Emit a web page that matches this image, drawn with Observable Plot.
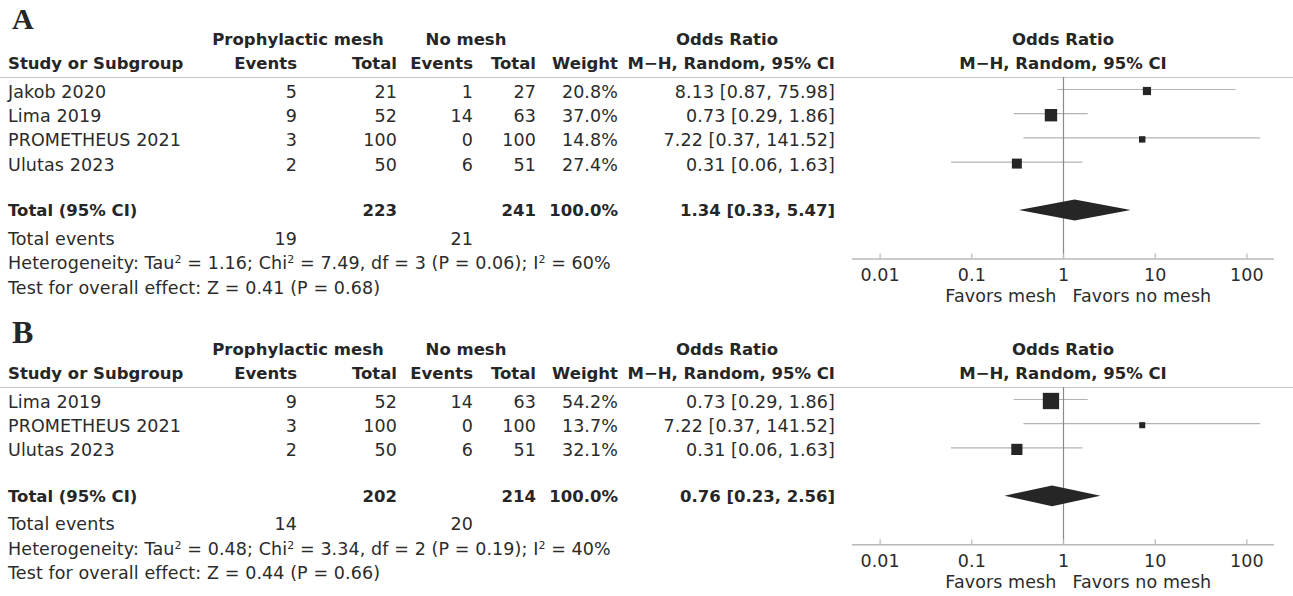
<!DOCTYPE html>
<html>
<head>
<meta charset="utf-8">
<script src="https://cdn.jsdelivr.net/npm/d3@7"></script>
<script src="https://cdn.jsdelivr.net/npm/@observablehq/plot@0.6"></script>
<style>
  body { margin: 0; background: #fff; }
  #fig { position: relative; width: 1293px; height: 596px; overflow: hidden;
         font-family: "DejaVu Sans", sans-serif; font-size: 17.5px; letter-spacing: 0.1px; color: #2b2b2b; }
  .panel { position: absolute; left: 0; width: 1293px; height: 300px; }
  .t { position: absolute; white-space: nowrap; line-height: 20px; height: 20px; }
  .b { font-weight: bold; font-size: 16.5px; letter-spacing: 0; color: #262626; }
  .letter { position: absolute; left: 12px; font-family: "Liberation Serif", serif; font-weight: bold; color: #262626; }
  .rule { position: absolute; left: 0; width: 1293px; height: 0; border-top: 1.5px solid #c6c6c6; }
  sup { font-size: 11px; line-height: 0; vertical-align: 6px; }
  .forest { position: absolute; left: 840px; }
</style>
</head>
<body>
<div id="fig"></div>
<script>
// ---- Analysis A: all four trials ----
const studiesA      = ["Jakob 2020", "Lima 2019", "PROMETHEUS 2021", "Ulutas 2023"];
const meshEventsA   = [5, 9, 3, 2];
const meshTotalA    = [21, 52, 100, 50];
const noMeshEventsA = [1, 14, 0, 6];
const noMeshTotalA  = [27, 63, 100, 51];
const weightA       = [20.8, 37.0, 14.8, 27.4];
const orA           = [8.13, 0.73, 7.22, 0.31];
const lowerA        = [0.87, 0.29, 0.37, 0.06];
const upperA        = [75.98, 1.86, 141.52, 1.63];
const pooledA       = [1.34, 0.33, 5.47];          // OR, lower, upper
const totalsA       = [223, 241, 100.0];           // mesh total, no-mesh total, weight
const eventsA       = [19, 21];                    // total events mesh / no mesh
const heteroA       = ["1.16", "7.49", "3", "0.06", "60"]; // Tau², Chi², df, P, I²
const overallA      = ["0.41", "0.68"];            // Z, P

// ---- Analysis B: excluding Jakob 2020 ----
const studiesB      = ["Lima 2019", "PROMETHEUS 2021", "Ulutas 2023"];
const meshEventsB   = [9, 3, 2];
const meshTotalB    = [52, 100, 50];
const noMeshEventsB = [14, 0, 6];
const noMeshTotalB  = [63, 100, 51];
const weightB       = [54.2, 13.7, 32.1];
const orB           = [0.73, 7.22, 0.31];
const lowerB        = [0.29, 0.37, 0.06];
const upperB        = [1.86, 141.52, 1.63];
const pooledB       = [0.76, 0.23, 2.56];
const totalsB       = [202, 214, 100.0];
const eventsB       = [14, 20];
const heteroB       = ["0.48", "3.34", "2", "0.19", "40"];
const overallB      = ["0.44", "0.66"];

// Odds-ratio axis
const oddsTicks = [0.01, 0.1, 1, 10, 100];
const oddsDomain = [0.005, 200];
const favorLabels = ["Favors mesh", "Favors no mesh"];

// ---- layout ----
const W = 1293;
const ROW = 24.2;        // row pitch
const RULE_Y = 77;       // header rule inside a panel
const FIRST_Y = 89;      // centre of the first study row
const FOREST_LEFT = 840;
const COL = { study: 8, ev1: 297, tot1: 397, ev2: 473, tot2: 536, weight: 618, ci: 835 };

const panels = [
  { letter: "A", top: 0, letterSize: 30, letterBase: 29.5,
    studies: studiesA, meshEvents: meshEventsA, meshTotal: meshTotalA,
    noMeshEvents: noMeshEventsA, noMeshTotal: noMeshTotalA, weight: weightA,
    or: orA, lower: lowerA, upper: upperA, pooled: pooledA, totals: totalsA,
    events: eventsA, hetero: heteroA, overall: overallA },
  { letter: "B", top: 310, letterSize: 32, letterBase: 33,
    studies: studiesB, meshEvents: meshEventsB, meshTotal: meshTotalB,
    noMeshEvents: noMeshEventsB, noMeshTotal: noMeshTotalB, weight: weightB,
    or: orB, lower: lowerB, upper: upperB, pooled: pooledB, totals: totalsB,
    events: eventsB, hetero: heteroB, overall: overallB }
];

const fig = document.getElementById("fig");
const fmt2 = d3.format(".2f");
const pct = d => d3.format(".1f")(d) + "%";
const ciText = (o, l, u) => `${fmt2(o)} [${fmt2(l)}, ${fmt2(u)}]`;

function put(parent, html, x, y, align, cls) {
  const el = document.createElement("div");
  el.className = "t" + (cls ? " " + cls : "");
  el.innerHTML = html;
  el.style.top = (y - 10) + "px";
  if (align === "right") el.style.right = (W - x) + "px";
  else if (align === "center") { el.style.left = x + "px"; el.style.transform = "translateX(-50%)"; }
  else el.style.left = x + "px";
  parent.appendChild(el);
}

// Forest plot for one analysis: CI whiskers, weighted squares, pooled diamond, log axis
function forest(p) {
  const n = p.studies.length;
  const rows = p.studies.map((s, i) => ({
    study: s, row: i, or: p.or[i], lo: p.lower[i], hi: p.upper[i], w: p.weight[i]
  }));
  const pooledRow = n + 1;
  const axisRow = n + 3;
  const plotH = (axisRow + (FIRST_Y - RULE_Y) / ROW) * ROW;
  const half = 0.43;
  const diamond = [
    { x: p.pooled[1], y1: pooledRow, y2: pooledRow },
    { x: p.pooled[0], y1: pooledRow - half, y2: pooledRow + half },
    { x: p.pooled[2], y1: pooledRow, y2: pooledRow }
  ];
  return Plot.plot({
    width: W - FOREST_LEFT,
    height: plotH + 52,
    marginTop: 0, marginBottom: 52, marginLeft: 12, marginRight: 19,
    x: { type: "log", domain: oddsDomain, axis: null },
    y: { domain: [-(FIRST_Y - RULE_Y) / ROW, axisRow], range: [0, plotH], axis: null },
    r: { type: "pow", exponent: 0.72, domain: [0, 54.2], range: [0, 9.2] },
    style: { fontFamily: "DejaVu Sans, sans-serif", fontSize: "17.5px", color: "#2b2b2b",
             background: "transparent", overflow: "visible" },
    marks: [
      Plot.ruleY(rows, { y: "row", x1: "lo", x2: "hi", stroke: "#b3b3b3", strokeWidth: 1.2 }),
      Plot.ruleX([1], { stroke: "#8a8a8a", strokeWidth: 1.2 }),
      Plot.dot(rows, { x: "or", y: "row", r: "w", symbol: "square", fill: "#262626", stroke: null, dy: 1.5 }),
      Plot.areaY(diamond, { x: "x", y1: "y1", y2: "y2", fill: "#262626" }),
      Plot.ruleY([axisRow], { stroke: "#b8b8b8", strokeWidth: 1.5 }),
      Plot.ruleX(oddsTicks, { x: d => d, y1: () => axisRow, y2: () => axisRow, insetTop: -5, stroke: "#b8b8b8", strokeWidth: 1.2 }),
      Plot.text(oddsTicks, { x: d => d, text: d => String(d), frameAnchor: "bottom", lineAnchor: "middle", dy: 16.5, fill: "#2b2b2b" }),
      Plot.text([favorLabels[0]], { x: () => 1, text: d => d, frameAnchor: "bottom", lineAnchor: "middle", dy: 37.5, dx: -7, textAnchor: "end", fill: "#2b2b2b" }),
      Plot.text([favorLabels[1]], { x: () => 1, text: d => d, frameAnchor: "bottom", lineAnchor: "middle", dy: 37.5, dx: 9, textAnchor: "start", fill: "#2b2b2b" })
    ]
  });
}

for (const p of panels) {
  const el = document.createElement("div");
  el.className = "panel";
  el.style.top = p.top + "px";
  fig.appendChild(el);

  const L = document.createElement("div");
  L.className = "letter";
  L.textContent = p.letter;
  L.style.fontSize = p.letterSize + "px";
  L.style.lineHeight = p.letterSize + "px";
  // baseline sits ~0.84em below the top of the line box
  L.style.top = (p.letterBase - 0.84 * p.letterSize) + "px";
  el.appendChild(L);

  const rule = document.createElement("div");
  rule.className = "rule";
  rule.style.top = RULE_Y + "px";
  el.appendChild(rule);

  const chart = forest(p);
  chart.classList.add("forest");
  chart.style.top = RULE_Y + "px";
  el.appendChild(chart);
  const xr = chart.scale("x").range;
  const forestMid = FOREST_LEFT + (xr[0] + xr[1]) / 2;

  // column headings
  put(el, "Prophylactic mesh", 298, 40, "center", "b");
  put(el, "No mesh", 466, 40, "center", "b");
  put(el, "Odds Ratio", 727, 40, "center", "b");
  put(el, "Odds Ratio", forestMid, 40, "center", "b");
  put(el, "Study or Subgroup", COL.study, 64, "left", "b");
  put(el, "Events", COL.ev1, 64, "right", "b");
  put(el, "Total", COL.tot1, 64, "right", "b");
  put(el, "Events", COL.ev2, 64, "right", "b");
  put(el, "Total", COL.tot2, 64, "right", "b");
  put(el, "Weight", COL.weight, 64, "right", "b");
  put(el, "M&minus;H, Random, 95% CI", COL.ci, 64, "right", "b");
  put(el, "M&minus;H, Random, 95% CI", forestMid, 64, "center", "b");

  // study rows
  p.studies.forEach((s, i) => {
    const y = FIRST_Y + i * ROW + 3;
    put(el, s, COL.study, y, "left");
    put(el, p.meshEvents[i], COL.ev1, y, "right");
    put(el, p.meshTotal[i], COL.tot1, y, "right");
    put(el, p.noMeshEvents[i], COL.ev2, y, "right");
    put(el, p.noMeshTotal[i], COL.tot2, y, "right");
    put(el, pct(p.weight[i]), COL.weight, y, "right");
    put(el, ciText(p.or[i], p.lower[i], p.upper[i]), COL.ci, y, "right");
  });

  // pooled row and summary statistics
  const py = FIRST_Y + (p.studies.length + 1) * ROW + 1;
  put(el, "Total (95% CI)", COL.study, py, "left", "b");
  put(el, p.totals[0], COL.tot1, py, "right", "b");
  put(el, p.totals[1], COL.tot2, py, "right", "b");
  put(el, pct(p.totals[2]), COL.weight, py, "right", "b");
  put(el, ciText(p.pooled[0], p.pooled[1], p.pooled[2]), COL.ci, py, "right", "b");

  put(el, "Total events", COL.study, py + 27.5, "left");
  put(el, p.events[0], COL.ev1, py + 27.5, "right");
  put(el, p.events[1], COL.ev2, py + 27.5, "right");
  const [tau, chi, df, ph, i2] = p.hetero;
  put(el, `Heterogeneity: Tau<sup>2</sup> = ${tau}; Chi<sup>2</sup> = ${chi}, df = ${df} (P = ${ph}); I<sup>2</sup> = ${i2}%`,
      COL.study, py + 52, "left");
  put(el, `Test for overall effect: Z = ${p.overall[0]} (P = ${p.overall[1]})`, COL.study, py + 76.5, "left");
}
</script>
</body>
</html>
